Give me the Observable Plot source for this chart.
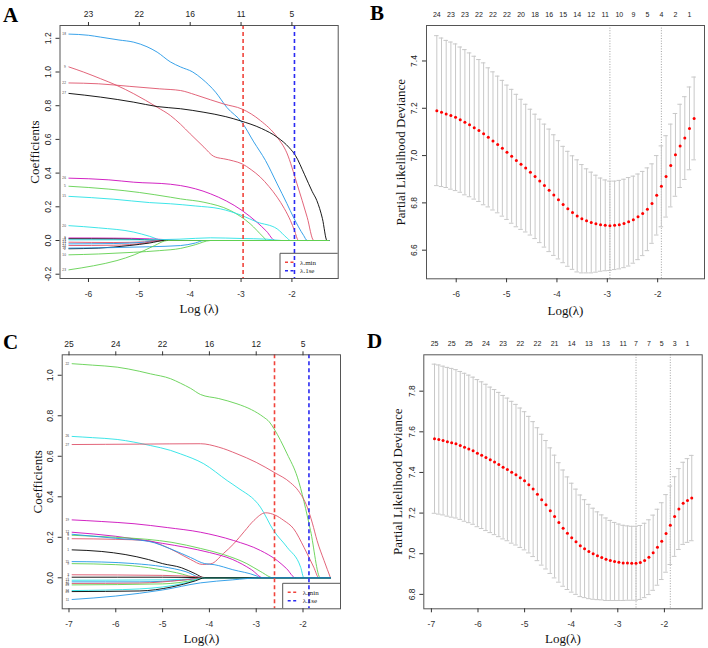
<!DOCTYPE html>
<html>
<head>
<meta charset="utf-8">
<script src="https://cdn.jsdelivr.net/npm/d3@7"></script>
<script src="https://cdn.jsdelivr.net/npm/@observablehq/plot@0.6"></script>
<style>
  body { margin: 0; background: #fff; }
  #fig { position: relative; width: 708px; height: 648px; overflow: hidden; background: #fff; }
  #fig > svg.panel { position: absolute; }
  #overlay { position: absolute; left: 0; top: 0; pointer-events: none; }
</style>
</head>
<body>
<div id="fig"></div>
<script>
const SANS = '"Liberation Sans", Arial, Helvetica, sans-serif';
const SERIF = '"Liberation Serif", "Times New Roman", Times, serif';
const PAL = {black: "#000000", red: "#DF536B", green: "#61D04F", blue: "#2297E6", cyan: "#28E2E5", magenta: "#CD0BBC"};

// ---------- Panel A: coefficient paths, cohort 1 ----------
const aXTicks = [-6, -5, -4, -3, -2];
const aTopLabels = [23, 22, 16, 11, 5];
const aYTicks = [-0.2, 0, 0.2, 0.4, 0.6, 0.8, 1.0, 1.2];
const aLambdaMin = -2.96, aLambda1se = -1.95;
const aV18 = [[-6.385,1.225],[-6.0,1.218],[-5.76,1.207],[-5.4,1.19],[-5.11,1.177],[-4.85,1.15],[-4.65,1.118],[-4.39,1.06],[-4.19,1.03],[-3.95,1.0],[-3.77,0.96],[-3.5,0.88],[-3.28,0.79],[-2.98,0.70],[-2.75,0.585],[-2.52,0.475],[-2.29,0.336],[-2.1,0.22],[-1.97,0.138],[-1.77,0.03],[-1.70,0],[-1.276,0]];
const aV9 = [[-6.385,1.03],[-6.1,1.0],[-5.76,0.96],[-5.44,0.92],[-5.11,0.871],[-4.65,0.791],[-4.39,0.742],[-4.19,0.69],[-4.0,0.633],[-3.73,0.554],[-3.54,0.50],[-3.47,0.492],[-3.34,0.485],[-3.15,0.472],[-2.98,0.455],[-2.8,0.42],[-2.62,0.376],[-2.45,0.32],[-2.29,0.257],[-2.15,0.19],[-2.03,0.119],[-1.95,0.06],[-1.87,0],[-1.276,0]];
const aV22 = [[-6.385,0.935],[-5.8,0.93],[-5.2,0.915],[-4.6,0.9],[-4.19,0.89],[-3.9,0.865],[-3.6,0.835],[-3.34,0.81],[-2.98,0.78],[-2.62,0.712],[-2.29,0.613],[-2.1,0.52],[-1.90,0.336],[-1.70,0.138],[-1.57,0],[-1.276,0]];
const aV27 = [[-6.385,0.873],[-5.76,0.851],[-5.11,0.821],[-4.65,0.795],[-4.19,0.782],[-3.73,0.761],[-3.3,0.735],[-3.01,0.71],[-2.6,0.665],[-2.29,0.613],[-2.05,0.55],[-1.93,0.504],[-1.75,0.39],[-1.6,0.29],[-1.51,0.237],[-1.4,0.13],[-1.31,0],[-1.276,0]];
const aV26 = [[-6.385,0.37],[-5.6,0.36],[-5.11,0.346],[-4.39,0.334],[-4.19,0.326],[-3.6,0.277],[-2.98,0.178],[-2.69,0.109],[-2.5,0.055],[-2.33,0],[-1.276,0]];
const aV5 = [[-6.385,0.322],[-5.6,0.305],[-5.0,0.285],[-4.39,0.257],[-4.19,0.247],[-3.73,0.227],[-3.21,0.178],[-2.82,0.099],[-2.56,0.02],[-2.49,0],[-1.276,0]];
const aV15 = [[-6.385,0.262],[-5.5,0.245],[-4.8,0.225],[-4.39,0.218],[-3.9,0.205],[-3.41,0.188],[-2.98,0.148],[-2.69,0.11],[-2.29,0.069],[-2.10,0.016],[-2.03,0],[-1.276,0]];
const aV20 = [[-6.385,0.088],[-5.8,0.075],[-5.11,0.05],[-4.8,0.025],[-4.52,0],[-1.276,0]];
const aV3 = [[-6.385,0.015],[-5.5,0.014],[-4.8,0.01],[-4.4,0.004],[-4.2,0],[-1.276,0]];
const aV7 = [[-6.385,0.01],[-5.5,0.009],[-4.9,0.005],[-4.5,0],[-1.276,0]];
const aV13 = [[-6.385,0.004],[-5.0,0.004],[-4.2,0.008],[-3.6,0.016],[-3.0,0.012],[-2.5,0.008],[-2.2,0],[-1.276,0]];
const aV14 = [[-6.385,-0.01],[-5.5,-0.012],[-4.9,-0.008],[-4.5,0],[-1.276,0]];
const aV17 = [[-6.385,-0.02],[-5.5,-0.018],[-4.9,-0.01],[-4.6,0],[-1.276,0]];
const aV24 = [[-6.385,-0.03],[-5.5,-0.028],[-4.9,-0.015],[-4.6,0],[-1.276,0]];
const aV2 = [[-6.385,-0.049],[-5.8,-0.045],[-5.2,-0.03],[-4.8,-0.015],[-4.5,0],[-1.276,0]];
const aV11 = [[-6.385,-0.045],[-5.5,-0.042],[-4.8,-0.037],[-4.19,-0.03],[-3.9,-0.015],[-3.73,0],[-1.276,0]];
const aV10 = [[-6.385,-0.085],[-5.8,-0.08],[-5.11,-0.07],[-4.6,-0.06],[-4.19,-0.047],[-3.9,-0.025],[-3.6,0],[-1.276,0]];
const aV23 = [[-6.385,-0.174],[-5.9,-0.15],[-5.44,-0.119],[-5.1,-0.085],[-4.91,-0.06],[-4.7,-0.03],[-4.45,0],[-1.276,0]];
const aPaths = [
  {id: "18", col: "blue", pts: aV18}, {id: "9", col: "red", pts: aV9}, {id: "22", col: "red", pts: aV22},
  {id: "27", col: "black", pts: aV27}, {id: "26", col: "magenta", pts: aV26}, {id: "5", col: "green", pts: aV5},
  {id: "15", col: "cyan", pts: aV15}, {id: "20", col: "cyan", pts: aV20}, {id: "3", col: "magenta", pts: aV3},
  {id: "7", col: "black", pts: aV7}, {id: "13", col: "cyan", pts: aV13}, {id: "14", col: "red", pts: aV14},
  {id: "17", col: "blue", pts: aV17}, {id: "24", col: "red", pts: aV24}, {id: "2", col: "black", pts: aV2},
  {id: "11", col: "blue", pts: aV11}, {id: "10", col: "green", pts: aV10}, {id: "23", col: "green", pts: aV23}
];

// ---------- Panel B: cross-validated deviance, cohort 1 ----------
const bLogLambda = [-6.385,-6.292,-6.199,-6.106,-6.013,-5.920,-5.828,-5.735,-5.642,-5.549,-5.456,-5.363,-5.270,-5.177,-5.084,-4.992,-4.899,-4.806,-4.713,-4.620,-4.527,-4.434,-4.341,-4.248,-4.155,-4.062,-3.970,-3.877,-3.784,-3.691,-3.598,-3.505,-3.412,-3.319,-3.226,-3.134,-3.041,-2.948,-2.855,-2.762,-2.669,-2.576,-2.483,-2.390,-2.297,-2.204,-2.112,-2.019,-1.926,-1.833,-1.740,-1.647,-1.554,-1.461,-1.368,-1.276];
const bDeviance = [7.190,7.183,7.176,7.169,7.162,7.152,7.141,7.130,7.118,7.106,7.092,7.077,7.062,7.047,7.031,7.014,6.997,6.979,6.963,6.947,6.930,6.912,6.893,6.873,6.853,6.833,6.813,6.793,6.775,6.759,6.745,6.733,6.724,6.717,6.712,6.708,6.705,6.703,6.705,6.708,6.713,6.720,6.729,6.741,6.755,6.773,6.797,6.832,6.870,6.912,6.958,7.003,7.041,7.074,7.115,7.157];
const bSE = [0.317,0.314,0.311,0.311,0.310,0.307,0.307,0.304,0.302,0.300,0.300,0.294,0.292,0.289,0.287,0.284,0.283,0.280,0.275,0.270,0.266,0.263,0.261,0.260,0.259,0.255,0.250,0.246,0.243,0.240,0.237,0.229,0.220,0.213,0.205,0.197,0.192,0.189,0.187,0.187,0.187,0.187,0.184,0.181,0.178,0.175,0.168,0.168,0.171,0.172,0.175,0.175,0.176,0.175,0.175,0.175];
const bTopIndex = [0,3,6,9,12,15,18,21,24,27,30,33,36,39,42,45,48,51,54];
const bTopLabels = [24,23,23,22,22,22,20,18,16,15,14,12,11,10,9,5,4,2,1];
const bXTicks = [-6, -5, -4, -3, -2];
const bYTicks = [6.6, 6.8, 7.0, 7.2, 7.4];
const bLambdaMin = -2.948, bLambda1se = -1.926;

// ---------- Panel C: coefficient paths, cohort 2 ----------
const cXTicks = [-7, -6, -5, -4, -3, -2];
const cTopLabels = [25, 24, 22, 16, 12, 5];
const cYTicks = [0, 0.2, 0.4, 0.6, 0.8, 1.0];
const cLambdaMin = -2.609, cLambda1se = -1.873;
const cV22 = [[-6.933,1.057],[-6.5,1.05],[-5.97,1.04],[-5.5,1.02],[-5.26,1.007],[-4.83,0.983],[-4.62,0.961],[-4.4,0.935],[-4.19,0.905],[-3.8,0.885],[-3.41,0.859],[-3.1,0.83],[-2.84,0.793],[-2.72,0.77],[-2.62,0.736],[-2.34,0.612],[-2.12,0.497],[-1.84,0.234],[-1.63,0],[-1.413,0]];
const cV26 = [[-6.933,0.698],[-6.5,0.692],[-5.97,0.683],[-5.26,0.653],[-4.83,0.629],[-4.62,0.612],[-4.12,0.563],[-3.62,0.48],[-3.41,0.447],[-2.91,0.349],[-2.63,0.234],[-2.34,0.151],[-2.05,0.052],[-1.98,0],[-1.413,0]];
const cV27 = [[-6.933,0.658],[-5.5,0.66],[-4.19,0.662],[-3.8,0.645],[-3.41,0.612],[-3.0,0.57],[-2.62,0.521],[-2.27,0.47],[-2.1,0.43],[-1.91,0.349],[-1.80,0.27],[-1.70,0.184],[-1.55,0.085],[-1.413,0]];
const cV19 = [[-6.933,0.286],[-6.3,0.278],[-5.61,0.267],[-4.9,0.248],[-4.19,0.225],[-3.48,0.184],[-2.91,0.135],[-2.55,0.085],[-2.35,0.045],[-2.16,0],[-1.413,0]];
const cV8 = [[-6.933,0.193],[-6.0,0.19],[-5.33,0.184],[-5.0,0.16],[-4.69,0.126],[-4.4,0.09],[-4.15,0.066],[-3.97,0.069],[-3.7,0.12],[-3.48,0.168],[-3.25,0.23],[-3.05,0.283],[-2.80,0.321],[-2.6,0.31],[-2.41,0.283],[-2.20,0.242],[-1.98,0.151],[-1.77,0.052],[-1.66,0],[-1.413,0]];
const cV12 = [[-6.933,0.225],[-6.0,0.205],[-5.0,0.17],[-4.5,0.15],[-4.0,0.125],[-3.5,0.09],[-3.1,0.04],[-2.85,0],[-1.413,0]];
const cV5 = [[-6.933,0.21],[-6.0,0.2],[-5.33,0.19],[-4.8,0.175],[-4.19,0.145],[-3.7,0.115],[-3.2,0.07],[-2.9,0.03],[-2.63,0],[-1.413,0]];
const cV4 = [[-6.933,0.215],[-6.0,0.195],[-5.3,0.18],[-4.8,0.14],[-4.4,0.1],[-4.1,0.07],[-3.9,0.065],[-3.5,0.04],[-3.0,0.01],[-2.9,0],[-1.413,0]];
const cV1 = [[-6.933,0.138],[-6.3,0.13],[-5.8,0.115],[-5.3,0.09],[-5.0,0.07],[-4.6,0.05],[-4.3,0.02],[-4.1,0],[-1.413,0]];
const cV15 = [[-6.933,0.08],[-6.3,0.078],[-5.6,0.07],[-5.0,0.055],[-4.5,0.03],[-4.15,0],[-1.413,0]];
const cV9 = [[-6.933,0.07],[-6.0,0.065],[-5.3,0.05],[-4.7,0.025],[-4.2,0],[-1.413,0]];
const cV3 = [[-6.933,0.015],[-5.0,0.012],[-4.2,0.004],[-4.0,0],[-1.413,0]];
const cV7 = [[-6.933,0.003],[-5.0,0.003],[-4.3,0.001],[-4.1,0],[-1.413,0]];
const cV13 = [[-6.933,-0.012],[-5.0,-0.01],[-4.2,-0.003],[-4.0,0],[-1.413,0]];
const cV17 = [[-6.933,-0.02],[-5.5,-0.02],[-4.5,-0.01],[-4.05,0],[-1.413,0]];
const cV20 = [[-6.933,-0.028],[-5.5,-0.026],[-4.6,-0.012],[-4.1,0],[-1.413,0]];
const cV23 = [[-6.933,-0.035],[-5.0,-0.03],[-4.3,-0.01],[-4.1,0],[-1.413,0]];
const cV24 = [[-6.933,-0.063],[-5.5,-0.055],[-4.5,-0.025],[-4.1,0],[-1.413,0]];
const cV25 = [[-6.933,-0.068],[-5.5,-0.065],[-4.8,-0.045],[-4.3,-0.015],[-4.1,0],[-1.413,0]];
const cV11 = [[-6.933,-0.107],[-6.0,-0.09],[-5.0,-0.06],[-4.19,-0.025],[-3.5,-0.01],[-2.9,0],[-1.413,0]];
const cPaths = [
  {id: "22", col: "green", pts: cV22}, {id: "26", col: "cyan", pts: cV26}, {id: "27", col: "red", pts: cV27},
  {id: "19", col: "magenta", pts: cV19}, {id: "8", col: "red", pts: cV8}, {id: "12", col: "magenta", pts: cV12},
  {id: "5", col: "green", pts: cV5}, {id: "4", col: "blue", pts: cV4}, {id: "1", col: "black", pts: cV1},
  {id: "15", col: "blue", pts: cV15}, {id: "9", col: "green", pts: cV9}, {id: "3", col: "red", pts: cV3},
  {id: "7", col: "black", pts: cV7}, {id: "13", col: "cyan", pts: cV13}, {id: "17", col: "blue", pts: cV17},
  {id: "20", col: "red", pts: cV20}, {id: "23", col: "green", pts: cV23}, {id: "24", col: "cyan", pts: cV24},
  {id: "25", col: "black", pts: cV25}, {id: "11", col: "blue", pts: cV11}
];

// ---------- Panel D: cross-validated deviance, cohort 2 ----------
const dLogLambda = [-6.933,-6.841,-6.749,-6.657,-6.565,-6.473,-6.381,-6.289,-6.197,-6.105,-6.013,-5.921,-5.829,-5.737,-5.645,-5.553,-5.461,-5.369,-5.277,-5.185,-5.093,-5.001,-4.909,-4.817,-4.725,-4.633,-4.541,-4.449,-4.357,-4.265,-4.173,-4.081,-3.989,-3.897,-3.805,-3.713,-3.621,-3.529,-3.437,-3.345,-3.253,-3.161,-3.069,-2.977,-2.885,-2.793,-2.701,-2.609,-2.517,-2.425,-2.333,-2.241,-2.149,-2.057,-1.965,-1.873,-1.781,-1.689,-1.597,-1.505,-1.413];
const dDeviance = [7.566,7.562,7.557,7.551,7.546,7.541,7.533,7.524,7.516,7.507,7.495,7.485,7.474,7.462,7.451,7.439,7.426,7.415,7.401,7.389,7.374,7.359,7.340,7.318,7.293,7.266,7.241,7.212,7.183,7.154,7.126,7.101,7.079,7.059,7.039,7.025,7.011,7.000,6.990,6.982,6.973,6.967,6.962,6.958,6.955,6.954,6.953,6.953,6.957,6.967,6.983,7.005,7.032,7.062,7.100,7.140,7.183,7.220,7.248,7.262,7.274];
const dSE = [0.367,0.367,0.366,0.366,0.366,0.365,0.364,0.364,0.363,0.362,0.362,0.361,0.360,0.358,0.357,0.355,0.353,0.351,0.349,0.346,0.343,0.340,0.336,0.332,0.327,0.322,0.316,0.309,0.302,0.294,0.286,0.277,0.268,0.259,0.250,0.241,0.232,0.224,0.216,0.209,0.203,0.197,0.192,0.188,0.185,0.183,0.182,0.182,0.182,0.183,0.184,0.185,0.187,0.189,0.191,0.193,0.196,0.199,0.202,0.206,0.210];
const dTopIndex = [0,4,8,12,16,20,24,28,32,36,40,44,47,50,53,56,59];
const dTopLabels = [25,25,25,24,23,22,22,21,14,13,13,11,7,7,5,3,1];
const dXTicks = [-7, -6, -5, -4, -3, -2];
const dYTicks = [6.8, 7.0, 7.2, 7.4, 7.6, 7.8];
const dLambdaMin = -2.609, dLambda1se = -1.873;

// ---------- shared drawing helpers ----------
const fig = document.getElementById("fig");

function place(svg, left, top) {
  svg.classList.add("panel");
  svg.style.left = left + "px";
  svg.style.top = top + "px";
  fig.appendChild(svg);
}

function yTickLabels(ticks, dx) {
  return Plot.text(ticks, {
    y: d => d, text: d => d.toFixed(1), frameAnchor: "left", dx,
    rotate: -90, textAnchor: "middle", lineAnchor: "middle",
    fontSize: 8.5, fontFamily: SANS, fill: "#222"
  });
}

function axisTitles(xTitle, yTitle, xdy, ydx) {
  return [
    Plot.text([xTitle], {text: d => d, frameAnchor: "bottom", dy: xdy, textAnchor: "middle", lineAnchor: "middle", fontSize: 13, fontFamily: SERIF, fill: "#111"}),
    Plot.text([yTitle], {text: d => d, frameAnchor: "left", dx: ydx, rotate: -90, textAnchor: "middle", lineAnchor: "middle", fontSize: 13, fontFamily: SERIF, fill: "#111"})
  ];
}

function topText(data, x, text, dy, fontSize) {
  return Plot.text(data, {x, text, frameAnchor: "top", dy, textAnchor: "middle", lineAnchor: "middle", fontSize, fontFamily: SANS, fill: "#222"});
}

function coefPanel(cfg) {
  const marks = [
    ...cfg.paths.map(s => Plot.line(s.pts, {x: d => d[0], y: d => d[1], stroke: PAL[s.col], strokeWidth: 0.9, curve: "monotone-x"})),
    Plot.text(cfg.paths, {x: s => s.pts[0][0], y: s => s.pts[0][1], text: s => s.id, dx: -3, textAnchor: "end", fontSize: 3.2, fontFamily: SANS, fill: "#444"}),
    Plot.ruleX([cfg.lmin], {stroke: "#F0443C", strokeWidth: 1.6, strokeDasharray: "4,3"}),
    Plot.ruleX([cfg.l1se], {stroke: "#2A2AF2", strokeWidth: 1.6, strokeDasharray: "4,3"}),
    Plot.frame({stroke: "#555", strokeWidth: 1}),
    Plot.axisX({anchor: "bottom", ticks: cfg.xTicks, tickSize: 4, tickPadding: 8, tickFormat: d => String(d), fontSize: 8.5, fontFamily: SANS, color: "#333", label: null}),
    Plot.axisX({anchor: "top", ticks: cfg.xTicks, tickSize: 4, text: null, color: "#333", label: null}),
    topText(cfg.xTicks, d => d, (d, i) => String(cfg.topLabels[i]), cfg.topDy, 8.5),
    Plot.axisY({anchor: "left", ticks: cfg.yTicks, tickSize: 4, text: null, color: "#333", label: null}),
    yTickLabels(cfg.yTicks, -12),
    ...axisTitles(cfg.xTitle, "Coefficients", cfg.xdy, cfg.ydx)
  ];
  return Plot.plot({
    width: cfg.width, height: cfg.height,
    marginLeft: cfg.ml, marginRight: cfg.mr, marginTop: cfg.mt, marginBottom: cfg.mb,
    x: {domain: cfg.xDomain}, y: {domain: cfg.yDomain},
    style: {background: "transparent", overflow: "visible", fontFamily: SANS},
    marks
  });
}

function cvPanel(cfg) {
  const rows = cfg.lam.map((x, i) => ({x, m: cfg.dev[i], lo: cfg.dev[i] - cfg.se[i], hi: cfg.dev[i] + cfg.se[i]}));
  const cap = cfg.cap;
  const barColor = "#C8C8C8";
  const marks = [
    Plot.ruleX([cfg.lmin, cfg.l1se], {stroke: "#8a8a8a", strokeWidth: 0.8, strokeDasharray: "1,1.6"}),
    Plot.ruleX(rows, {x: "x", y1: "lo", y2: "hi", stroke: barColor, strokeWidth: 1}),
    Plot.ruleY(rows, {y: "hi", x1: d => d.x - cap, x2: d => d.x + cap, stroke: barColor, strokeWidth: 1}),
    Plot.ruleY(rows, {y: "lo", x1: d => d.x - cap, x2: d => d.x + cap, stroke: barColor, strokeWidth: 1}),
    Plot.dot(rows, {x: "x", y: "m", r: 1.5, fill: "#FF0000", stroke: null}),
    Plot.frame({stroke: "#555", strokeWidth: 1}),
    Plot.axisX({anchor: "bottom", ticks: cfg.xTicks, tickSize: 4, tickPadding: 8, tickFormat: d => String(d), fontSize: 8.5, fontFamily: SANS, color: "#333", label: null}),
    topText(cfg.topIndex, i => cfg.lam[i], (i, k) => String(cfg.topLabels[k]), cfg.topDy, 7),
    Plot.axisY({anchor: "left", ticks: cfg.yTicks, tickSize: 4, text: null, color: "#333", label: null}),
    yTickLabels(cfg.yTicks, -12),
    ...axisTitles("Log(\u03bb)", "Partial Likelihood Deviance", cfg.xdy, cfg.ydx)
  ];
  return Plot.plot({
    width: cfg.width, height: cfg.height,
    marginLeft: cfg.ml, marginRight: cfg.mr, marginTop: cfg.mt, marginBottom: cfg.mb,
    x: {domain: cfg.xDomain}, y: {domain: cfg.yDomain},
    style: {background: "transparent", overflow: "visible", fontFamily: SANS},
    marks
  });
}

// ---------- build the four panels ----------
place(coefPanel({
  width: 354, height: 324, ml: 59.5, mr: 16.3, mt: 25, mb: 46,
  xDomain: [-6.56, -1.09], yDomain: [-0.2255, 1.276],
  paths: aPaths, xTicks: aXTicks, topLabels: aTopLabels, yTicks: aYTicks,
  lmin: aLambdaMin, l1se: aLambda1se, xTitle: "Log (\u03bb)", xdy: 30, ydx: -25, topDy: -11
}), 0, 0);

place(cvPanel({
  width: 354, height: 324, ml: 72, mr: 4, mt: 25, mb: 45.7,
  xDomain: [-6.59, -1.07], yDomain: [6.479, 7.55],
  lam: bLogLambda, dev: bDeviance, se: bSE, cap: 0.045,
  topIndex: bTopIndex, topLabels: bTopLabels, xTicks: bXTicks, yTicks: bYTicks,
  lmin: bLambdaMin, l1se: bLambda1se, xdy: 32, ydx: -26, topDy: -11
}), 354, 0);

place(coefPanel({
  width: 354, height: 324, ml: 61.7, mr: 14, mt: 30.3, mb: 39.7,
  xDomain: [-7.145, -1.199], yDomain: [-0.153, 1.101],
  paths: cPaths, xTicks: cXTicks, topLabels: cTopLabels, yTicks: cYTicks,
  lmin: cLambdaMin, l1se: cLambda1se, xTitle: "Log(\u03bb)", xdy: 30, ydx: -24, topDy: -11
}), 0, 324);

place(cvPanel({
  width: 354, height: 324, ml: 69.3, mr: 6.3, mt: 30.3, mb: 39.7,
  xDomain: [-7.163, -1.189], yDomain: [6.729, 7.979],
  lam: dLogLambda, dev: dDeviance, se: dSE, cap: 0.05,
  topIndex: dTopIndex, topLabels: dTopLabels, xTicks: dXTicks, yTicks: dYTicks,
  lmin: dLambdaMin, l1se: dLambda1se, xdy: 30, ydx: -26, topDy: -11.5
}), 354, 324);

// ---------- panel tags and legends ----------
const overlay = d3.select(fig).append("svg").attr("id", "overlay").attr("width", 708).attr("height", 648);
const tags = [["A", 3, 22], ["B", 370, 20], ["C", 3, 349], ["D", 367, 348]];
overlay.selectAll("text.tag").data(tags).join("text").attr("class", "tag")
  .attr("x", d => d[1]).attr("y", d => d[2]).text(d => d[0])
  .attr("font-family", SERIF).attr("font-weight", "bold").attr("font-size", 21).attr("fill", "#000");

function legend(x, y, w, h) {
  const g = overlay.append("g").attr("transform", `translate(${x},${y})`);
  g.append("path").attr("d", `M0,${h}V0H${w}`).attr("fill", "none").attr("stroke", "#555").attr("stroke-width", 1);
  const items = [["\u03bb.min", "#F0443C"], ["\u03bb.1se", "#2A2AF2"]];
  items.forEach(([label, color], i) => {
    const cy = 9 + i * 8.5;
    g.append("line").attr("x1", 5).attr("x2", 16).attr("y1", cy).attr("y2", cy)
      .attr("stroke", color).attr("stroke-width", 1.4).attr("stroke-dasharray", "3,2.5");
    g.append("text").attr("x", 20).attr("y", cy + 2.3).text(label)
      .attr("font-family", SERIF).attr("font-size", 7).attr("fill", "#222");
  });
}
legend(280, 253.3, 57.7, 24.7);
legend(282.7, 583.3, 57.3, 25);
</script>
</body>
</html>
